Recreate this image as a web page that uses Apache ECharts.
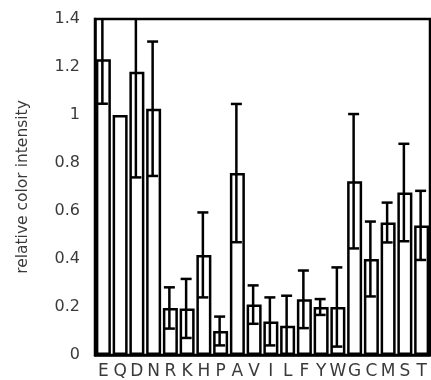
<!DOCTYPE html>
<html>
<head>
<meta charset="utf-8">
<script src="https://cdn.jsdelivr.net/npm/echarts@6/dist/echarts.min.js"></script>
<style>
  html, body { margin: 0; padding: 0; background: #fff; }
  #chart { width: 431px; height: 380px; }
</style>
</head>
<body>
<div id="chart"></div>
<script>
// Amino acid residues (one-letter codes)
const residues = ['E','Q','D','N','R','K','H','P','A','V','I','L','F','Y','W','G','C','M','S','T'];
// Mean relative colour intensity (Q is the reference = 1)
const meanIntensity = [1.232, 1.0, 1.18, 1.026, 0.196, 0.194, 0.417, 0.10, 0.758, 0.21, 0.14, 0.122, 0.232, 0.20, 0.20, 0.724, 0.40, 0.552, 0.677, 0.54];
// Standard deviation for each residue
const stdDev = [0.185, 0.0, 0.44, 0.28, 0.086, 0.123, 0.177, 0.06, 0.288, 0.08, 0.1, 0.125, 0.12, 0.033, 0.165, 0.28, 0.156, 0.083, 0.203, 0.144];
// Y axis range and step
const yMin = 0, yMax = 1.4, yStep = 0.2;

const font = 'DejaVu Sans';
const textColor = '#3a3a3a';
const errorData = residues.map((r, i) => [i, meanIntensity[i] - stdDev[i], meanIntensity[i] + stdDev[i]]);

const chart = echarts.init(document.getElementById('chart'), null, { renderer: 'canvas' });
chart.setOption({
  animation: false,
  backgroundColor: '#fff',
  grid: {
    left: 95, right: 1, top: 19, bottom: 25,
    show: true, borderColor: '#000', borderWidth: 2.5, backgroundColor: 'transparent'
  },
  xAxis: {
    type: 'category',
    data: residues,
    axisLine: { lineStyle: { color: '#000', width: 2.5 } },
    axisTick: { show: false },
    axisLabel: { interval: 0, color: textColor, fontFamily: font, fontSize: 17, margin: 8 },
    splitLine: { show: false }
  },
  yAxis: {
    type: 'value',
    min: yMin, max: yMax, interval: yStep,
    name: 'relative color intensity',
    nameLocation: 'middle',
    nameRotate: 90,
    nameGap: 64,
    nameTextStyle: { color: textColor, fontFamily: font, fontSize: 15.5 },
    axisLine: { show: true, lineStyle: { color: '#000', width: 2.5 } },
    axisTick: { show: false },
    axisLabel: { color: textColor, fontFamily: font, fontSize: 16, margin: 15 },
    splitLine: { show: false }
  },
  series: [
    {
      type: 'bar',
      data: meanIntensity,
      barWidth: 15,
      itemStyle: { color: '#fff', borderColor: '#000', borderWidth: 2.5 }
    },
    {
      type: 'custom',
      clip: true,
      data: errorData,
      encode: { x: 0, y: [1, 2] },
      renderItem: function (params, api) {
        const x = api.coord([api.value(0), 0])[0] - 1;
        const lo = api.coord([api.value(0), api.value(1)])[1];
        const hi = api.coord([api.value(0), api.value(2)])[1];
        if (Math.abs(lo - hi) < 0.5) return null;
        const cap = 5.5;
        const style = { stroke: '#000', lineWidth: 2.5, fill: null };
        return {
          type: 'group',
          children: [
            { type: 'line', shape: { x1: x, y1: lo, x2: x, y2: hi }, style: style },
            { type: 'line', shape: { x1: x - cap, y1: hi, x2: x + cap, y2: hi }, style: style },
            { type: 'line', shape: { x1: x - cap, y1: lo, x2: x + cap, y2: lo }, style: style }
          ]
        };
      },
      z: 3
    }
  ]
});
</script>
</body>
</html>
